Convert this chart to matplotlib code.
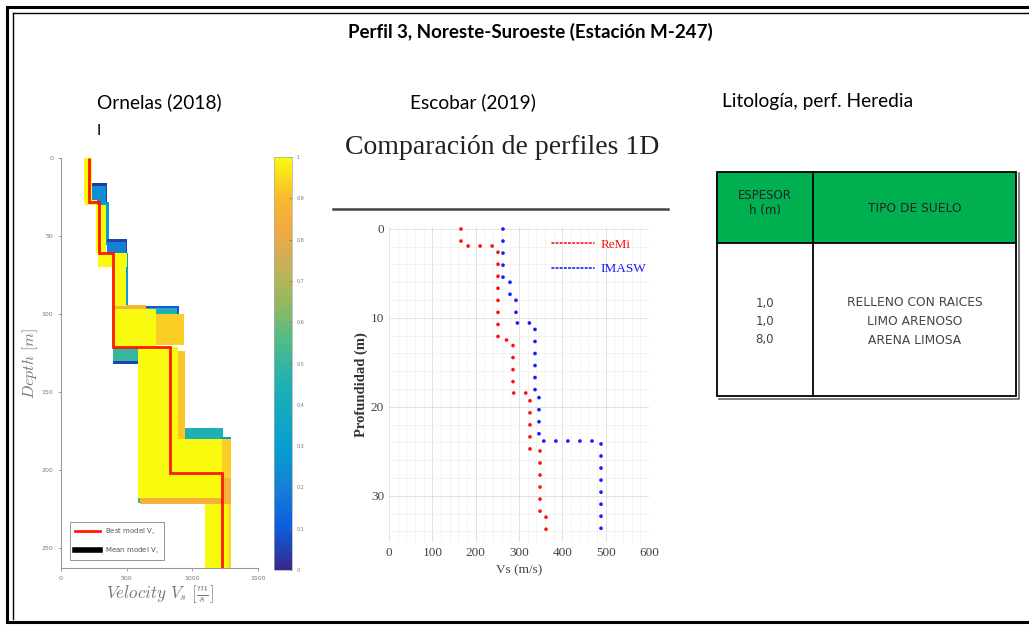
import numpy as np
import matplotlib.pyplot as plt
from matplotlib.colors import LinearSegmentedColormap
from matplotlib.patches import Rectangle
import matplotlib as mpl

W, H = 1029, 625
plt.rcParams['mathtext.fontset'] = 'cm'

# ---- data: Ornelas (2018) inversion ensemble (depth top/bottom, Vs range, colour value)
ens_top = [16, 18, 28, 52, 54, 61, 95, 96, 121, 121, 173, 179, 209,
           94, 100, 124, 180, 205, 222,
           0, 27, 30, 61, 70, 97, 121, 180, 222]
ens_bot = [28, 28, 56, 61, 61, 95, 104, 103, 132, 130, 181, 188, 221,
           100, 120, 180, 205, 222, 263,
           29, 30, 61, 70, 95, 121, 180, 218, 263]
ens_vmin = [232, 232, 270, 350, 350, 392, 640, 640, 398, 398, 944, 1220, 587,
            398, 386, 587, 587, 600, 1096,
            178, 180, 268, 283, 392, 386, 587, 587, 1100]
ens_vmax = [350, 340, 368, 505, 495, 508, 895, 880, 590, 585, 1230, 1292, 690,
            650, 935, 945, 1292, 1292, 1292,
            238, 275, 345, 500, 495, 720, 890, 1225, 1270]
ens_val = [0.03, 0.25, 0.3, 0.05, 0.2, 0.3, 0.1, 0.45, 0.05, 0.5, 0.45, 0.3, 0.5,
           0.88, 0.93, 0.92, 0.93, 0.86, 0.95,
           1.0, 1.0, 1.0, 1.0, 1.0, 1.0, 1.0, 1.0, 1.0]

best_depth = [0, 28, 61, 121, 202, 263]
best_vs = [213, 292, 398, 830, 1228]

# ---- data: Escobar (2019)
remi_depth = [0, 1.9, 12.5, 18.5, 24.8, 31.8, 34.7]
remi_vs = [167, 251, 287, 326, 349, 362]
imasw_depth = [0, 5.8, 7.6, 10.6, 18.7, 23.8, 34.3]
imasw_vs = [262, 280, 292, 338, 347, 490]

# ---- data: lithology table
tab_head = ['ESPESOR\nh (m)', 'TIPO DE SUELO']
tab_h = ['1,0', '1,0', '8,0']
tab_soil = ['RELLENO CON RAICES', 'LIMO ARENOSO', 'ARENA LIMOSA']

parula = LinearSegmentedColormap.from_list('parula_like', [
    (0.0, '#352a87'), (0.1, '#0f5cdd'), (0.2, '#1481d6'), (0.3, '#069fcf'),
    (0.45, '#1fb0b3'), (0.55, '#4dbb8a'), (0.65, '#95b95f'), (0.72, '#bdb35a'),
    (0.82, '#efa946'), (0.9, '#fbb82f'), (1.0, '#f9fb0e')])


def rect(x0, y0, x1, y1):
    return [x0 / W, 1 - y1 / H, (x1 - x0) / W, (y1 - y0) / H]


fig = plt.figure(figsize=(W / 100, H / 100), dpi=100)

# background layer in pixel coordinates
bg = fig.add_axes([0, 0, 1, 1])
bg.set_xlim(0, W)
bg.set_ylim(H, 0)
bg.axis('off')
bg.plot([7, W + 5], [7, 7], color='k', lw=2.2)
bg.plot([7, 7], [7, 622], color='k', lw=2.2)
bg.plot([7, W + 5], [622, 622], color='k', lw=2.2)
bg.plot([12.5, W + 5], [12.5, 12.5], color='k', lw=1)
bg.plot([12.5, 12.5], [12.5, 619], color='k', lw=1)

bg.text(530, 32, 'Perfil 3, Noreste-Suroeste (Estación M-247)', family='Lato',
        weight='bold', fontsize=13.5, ha='center', va='center')
bg.text(97, 102, 'Ornelas (2018)', family='Lato', fontsize=13.8, va='center')
bg.text(410, 102, 'Escobar (2019)', family='Lato', fontsize=13.8, va='center')
bg.text(722, 102, 'Litología, perf. Heredia', family='Lato', fontsize=13.8, va='center')
bg.text(97, 131, 'I', family='Lato', fontsize=11, va='center')

bg.text(502, 148, 'Comparación de perfiles 1D', family='Liberation Serif',
        fontsize=20, ha='center', va='center', color='#222222')
bg.plot([333, 668], [209, 209], color='#444444', lw=1.8)

# table
tx0, tx1, tc, ty0, ty1, th = 717, 1016, 813, 172, 396, 243
bg.plot([tx1 + 3, tx1 + 3, tx0 + 2], [ty0 + 1, ty1 + 2.5, ty1 + 2.5], color='#666666', lw=1.2)
bg.add_patch(Rectangle((tx0, ty0), tx1 - tx0, th - ty0, facecolor='#00b050', edgecolor='none'))
bg.add_patch(Rectangle((tx0, ty0), tx1 - tx0, ty1 - ty0, facecolor='none', edgecolor='k', lw=1.3))
bg.plot([tx0, tx1], [th, th], color='k', lw=1.3)
bg.plot([tc, tc], [ty0, ty1], color='k', lw=1.3)
bg.text((tx0 + tc) / 2, 203, tab_head[0], family='DejaVu Sans', fontsize=8.5,
        ha='center', va='center', color='#222222', linespacing=1.15)
bg.text((tc + tx1) / 2, 208, tab_head[1], family='DejaVu Sans', fontsize=8.8,
        ha='center', va='center', color='#222222')
for i in range(len(tab_h)):
    bg.text((tx0 + tc) / 2, 303 + 18.5 * i, tab_h[i], family='DejaVu Sans', fontsize=8.5,
            ha='center', va='center', color='#444444')
    bg.text((tc + tx1) / 2, 303 + 18.5 * i, tab_soil[i], family='DejaVu Sans', fontsize=8.8,
            ha='center', va='center', color='#444444')

# ---- left panel
ax1 = fig.add_axes(rect(61, 158, 258, 568))
for t, b, v0, v1, c in zip(ens_top, ens_bot, ens_vmin, ens_vmax, ens_val):
    ax1.fill_betweenx([t, b], v0, v1, color=parula(c), lw=0)
ax1.stairs(best_vs, best_depth, orientation='horizontal', baseline=None,
           color='#ff1a00', lw=2, label='Best model V$_s$')
ax1.plot([], [], color='k', lw=4, label='Mean model V$_s$')
ax1.set_xlim(0, 1500)
ax1.set_ylim(263, 0)
ax1.set_xticks([0, 500, 1000, 1500])
ax1.set_yticks([0, 50, 100, 150, 200, 250])
ax1.tick_params(labelsize=4.5, colors='#777777', length=2, width=0.5)
for s in ['top', 'right']:
    ax1.spines[s].set_visible(False)
for s in ['left', 'bottom']:
    ax1.spines[s].set_color('#999999')
    ax1.spines[s].set_linewidth(0.8)
ax1.set_ylabel(r'$Depth\ [m]$', fontsize=11.5, color='#777777', labelpad=1)
ax1.set_xlabel(r'$Velocity\ V_s\ [\frac{m}{s}]$', fontsize=12.3, color='#777777', labelpad=2)
leg1 = ax1.legend(loc='lower left', bbox_to_anchor=(0.03, 0.01), fontsize=5,
                  fancybox=False, edgecolor='#666666', handlelength=3.5,
                  borderpad=0.7, labelspacing=1.2)
leg1.get_frame().set_linewidth(0.6)
for txt in leg1.get_texts():
    txt.set_color('#555555')

cax = fig.add_axes(rect(274, 157, 292, 570))
cb = fig.colorbar(mpl.cm.ScalarMappable(cmap=parula), cax=cax)
cb.set_ticks(np.arange(0, 1.01, 0.1))
cb.set_ticklabels(['0', '0.1', '0.2', '0.3', '0.4', '0.5', '0.6', '0.7', '0.8', '0.9', '1'])
cb.ax.tick_params(labelsize=3.5, colors='#777777', direction='in', length=2, width=0.5)
cb.outline.set_edgecolor('#aaaaaa')
cb.outline.set_linewidth(0.5)

# ---- middle panel
ax2 = fig.add_axes(rect(389, 227, 649, 542))
remi_y = np.repeat(remi_depth, 2)[1:-1]
remi_x = np.repeat(remi_vs, 2)
imasw_y = np.repeat(imasw_depth, 2)[1:-1]
imasw_x = np.repeat(imasw_vs, 2)
dots = (0, (0.01, 3.2))
ax2.plot(remi_x, remi_y, color='#ff1010', lw=2.7, linestyle=dots,
         dash_capstyle='round', label='ReMi')
ax2.plot(imasw_x, imasw_y, color='#1a1aff', lw=2.7, linestyle=dots,
         dash_capstyle='round', label='IMASW')
ax2.set_xlim(0, 600)
ax2.set_ylim(35.2, -0.2)
ax2.set_xticks(np.arange(0, 601, 100))
ax2.set_yticks([0, 10, 20, 30])
ax2.set_xticks(np.arange(0, 601, 20), minor=True)
ax2.set_yticks(np.arange(0, 35.1, 2), minor=True)
ax2.grid(which='major', color='#dddddd', lw=0.6)
ax2.grid(which='minor', color='#eeeeee', lw=0.5)
ax2.tick_params(which='both', length=0, labelsize=9.5, labelcolor='#444444')
for lab in ax2.get_xticklabels() + ax2.get_yticklabels():
    lab.set_family('Liberation Serif')
for s in ax2.spines.values():
    s.set_visible(False)
ax2.set_xlabel('Vs (m/s)', family='Liberation Serif', fontsize=9.5, color='#444444', labelpad=4)
ax2.set_ylabel('Profundidad (m)', family='Liberation Serif', fontsize=10.5,
               weight='bold', color='#333333', labelpad=2)
leg2 = ax2.legend(loc='upper left', bbox_to_anchor=(0.58, 1.0), frameon=False,
                  prop={'family': 'Liberation Serif', 'size': 9.5},
                  handlelength=3.2, handletextpad=0.5, labelspacing=0.9)
for txt, col in zip(leg2.get_texts(), ['#ff1010', '#1a1aff']):
    txt.set_color(col)
for ln in leg2.get_lines():
    ln.set_linewidth(1.2)
    ln.set_linestyle((0, (1, 1.5)))

fig.savefig('out.png', dpi=100)
